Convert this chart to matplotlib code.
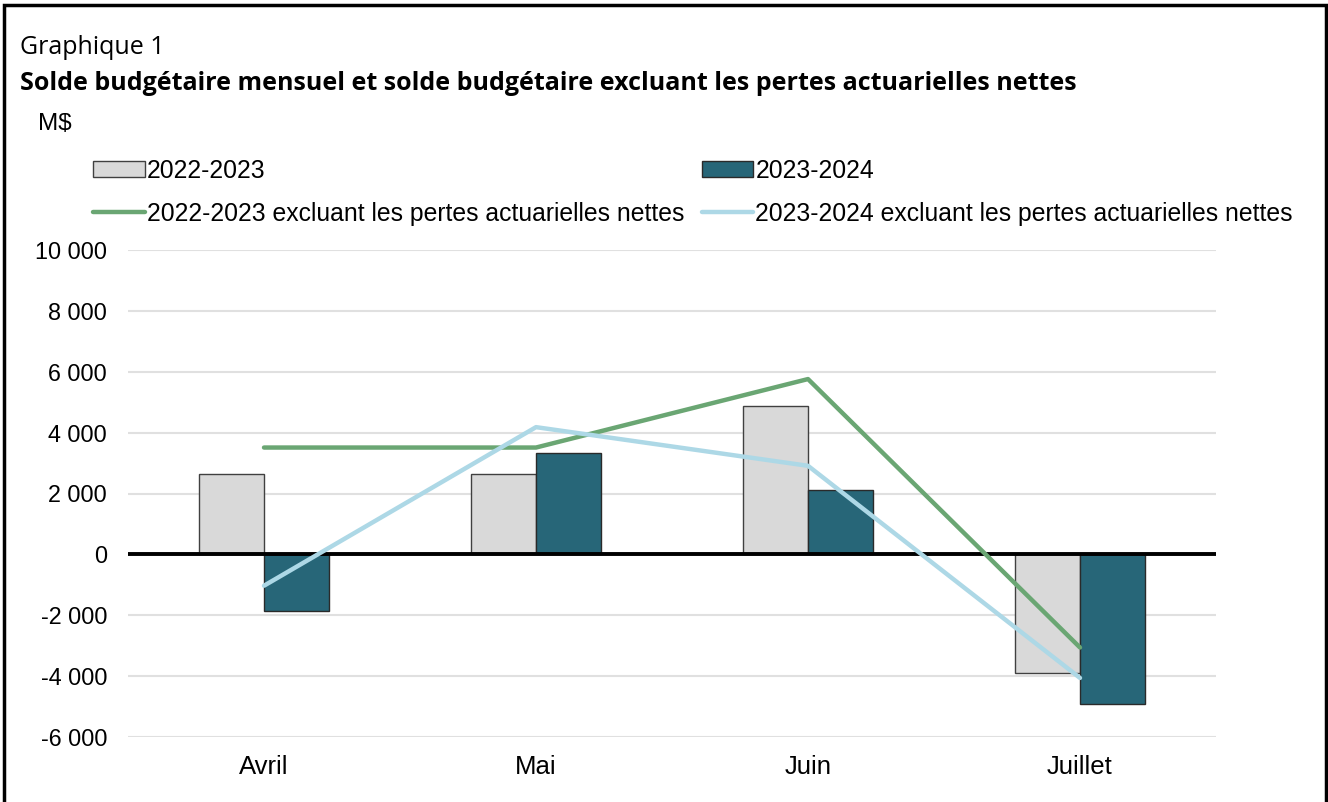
import matplotlib.pyplot as plt
from matplotlib.patches import Rectangle
import numpy as np

months = ["Avril", "Mai", "Juin", "Juillet"]
solde_2223 = [2650, 2650, 4880, -3910]
solde_2324 = [-1860, 3330, 2100, -4910]
excl_2223 = [3510, 3510, 5760, -3060]
excl_2324 = [-1030, 4180, 2910, -4060]
yticks = [-6000, -4000, -2000, 0, 2000, 4000, 6000, 8000, 10000]

plt.rcParams['font.family'] = ['Liberation Sans', 'DejaVu Sans']

fig = plt.figure(figsize=(13.28, 8.02), dpi=100)
ax = fig.add_axes([128 / 1328, 1 - 737 / 802, (1216 - 128) / 1328, (737 - 250) / 802])

x = np.arange(len(months))
w = 0.24
b1 = ax.bar(x - w / 2, solde_2223, w, color="#d9d9d9", edgecolor="#404040", linewidth=1.0,
            label="2022-2023", zorder=2)
b2 = ax.bar(x + w / 2, solde_2324, w, color="#276678", edgecolor="#2a2a2a", linewidth=1.0,
            label="2023-2024", zorder=2)
l1, = ax.plot(x, excl_2223, color="#6aa673", linewidth=3.2, solid_capstyle="round",
              label="2022-2023 excluant les pertes actuarielles nettes", zorder=4)
l2, = ax.plot(x, excl_2324, color="#add8e6", linewidth=3.2, solid_capstyle="round",
              label="2023-2024 excluant les pertes actuarielles nettes", zorder=4)

ax.axhline(0, color="black", linewidth=2.8, zorder=3)
ax.set_xlim(-0.5, len(months) - 0.5)
ax.set_ylim(-6000, 10000)
ax.set_yticks(yticks)
ax.set_yticklabels([f"{v:,}".replace(",", " ") for v in yticks], fontsize=16.8)
ax.set_xticks(x)
ax.set_xticklabels(months, fontsize=18.5)
ax.tick_params(axis="both", length=0)
ax.tick_params(axis="y", pad=15)
ax.tick_params(axis="x", pad=13)
ax.grid(axis="y", color="#e0e0e0", linewidth=1.5, zorder=0)
ax.set_axisbelow(True)
for s in ax.spines.values():
    s.set_visible(False)

leg = fig.legend(handles=[b1, l1, b2, l2], ncol=2, loc="upper left",
                 bbox_to_anchor=(93 / 1328, 1 - 159 / 802), frameon=False,
                 fontsize=17.8, handlelength=2.1, handleheight=0.6, handletextpad=0.08,
                 columnspacing=0.7, labelspacing=0.75, borderaxespad=0, borderpad=0)

fig.text(20 / 1328, 1 - 47 / 802, "Graphique 1", family="Open Sans", fontsize=18,
         va="center", ha="left")
fig.text(20 / 1328, 1 - 83 / 802,
         "Solde budgétaire mensuel et solde budgétaire excluant les pertes actuarielles nettes",
         family="Open Sans", fontweight="bold", fontsize=18, va="center", ha="left")
fig.text(38 / 1328, 1 - 124 / 802, "M$", fontsize=17.5, va="center", ha="left")

fig.patches.append(Rectangle((4 / 1328, -0.05), 1322 / 1328, 1.05 - 5 / 802,
                             transform=fig.transFigure, fill=False, edgecolor="black",
                             linewidth=2.5, clip_on=False))

fig.savefig("out.png", dpi=100)
